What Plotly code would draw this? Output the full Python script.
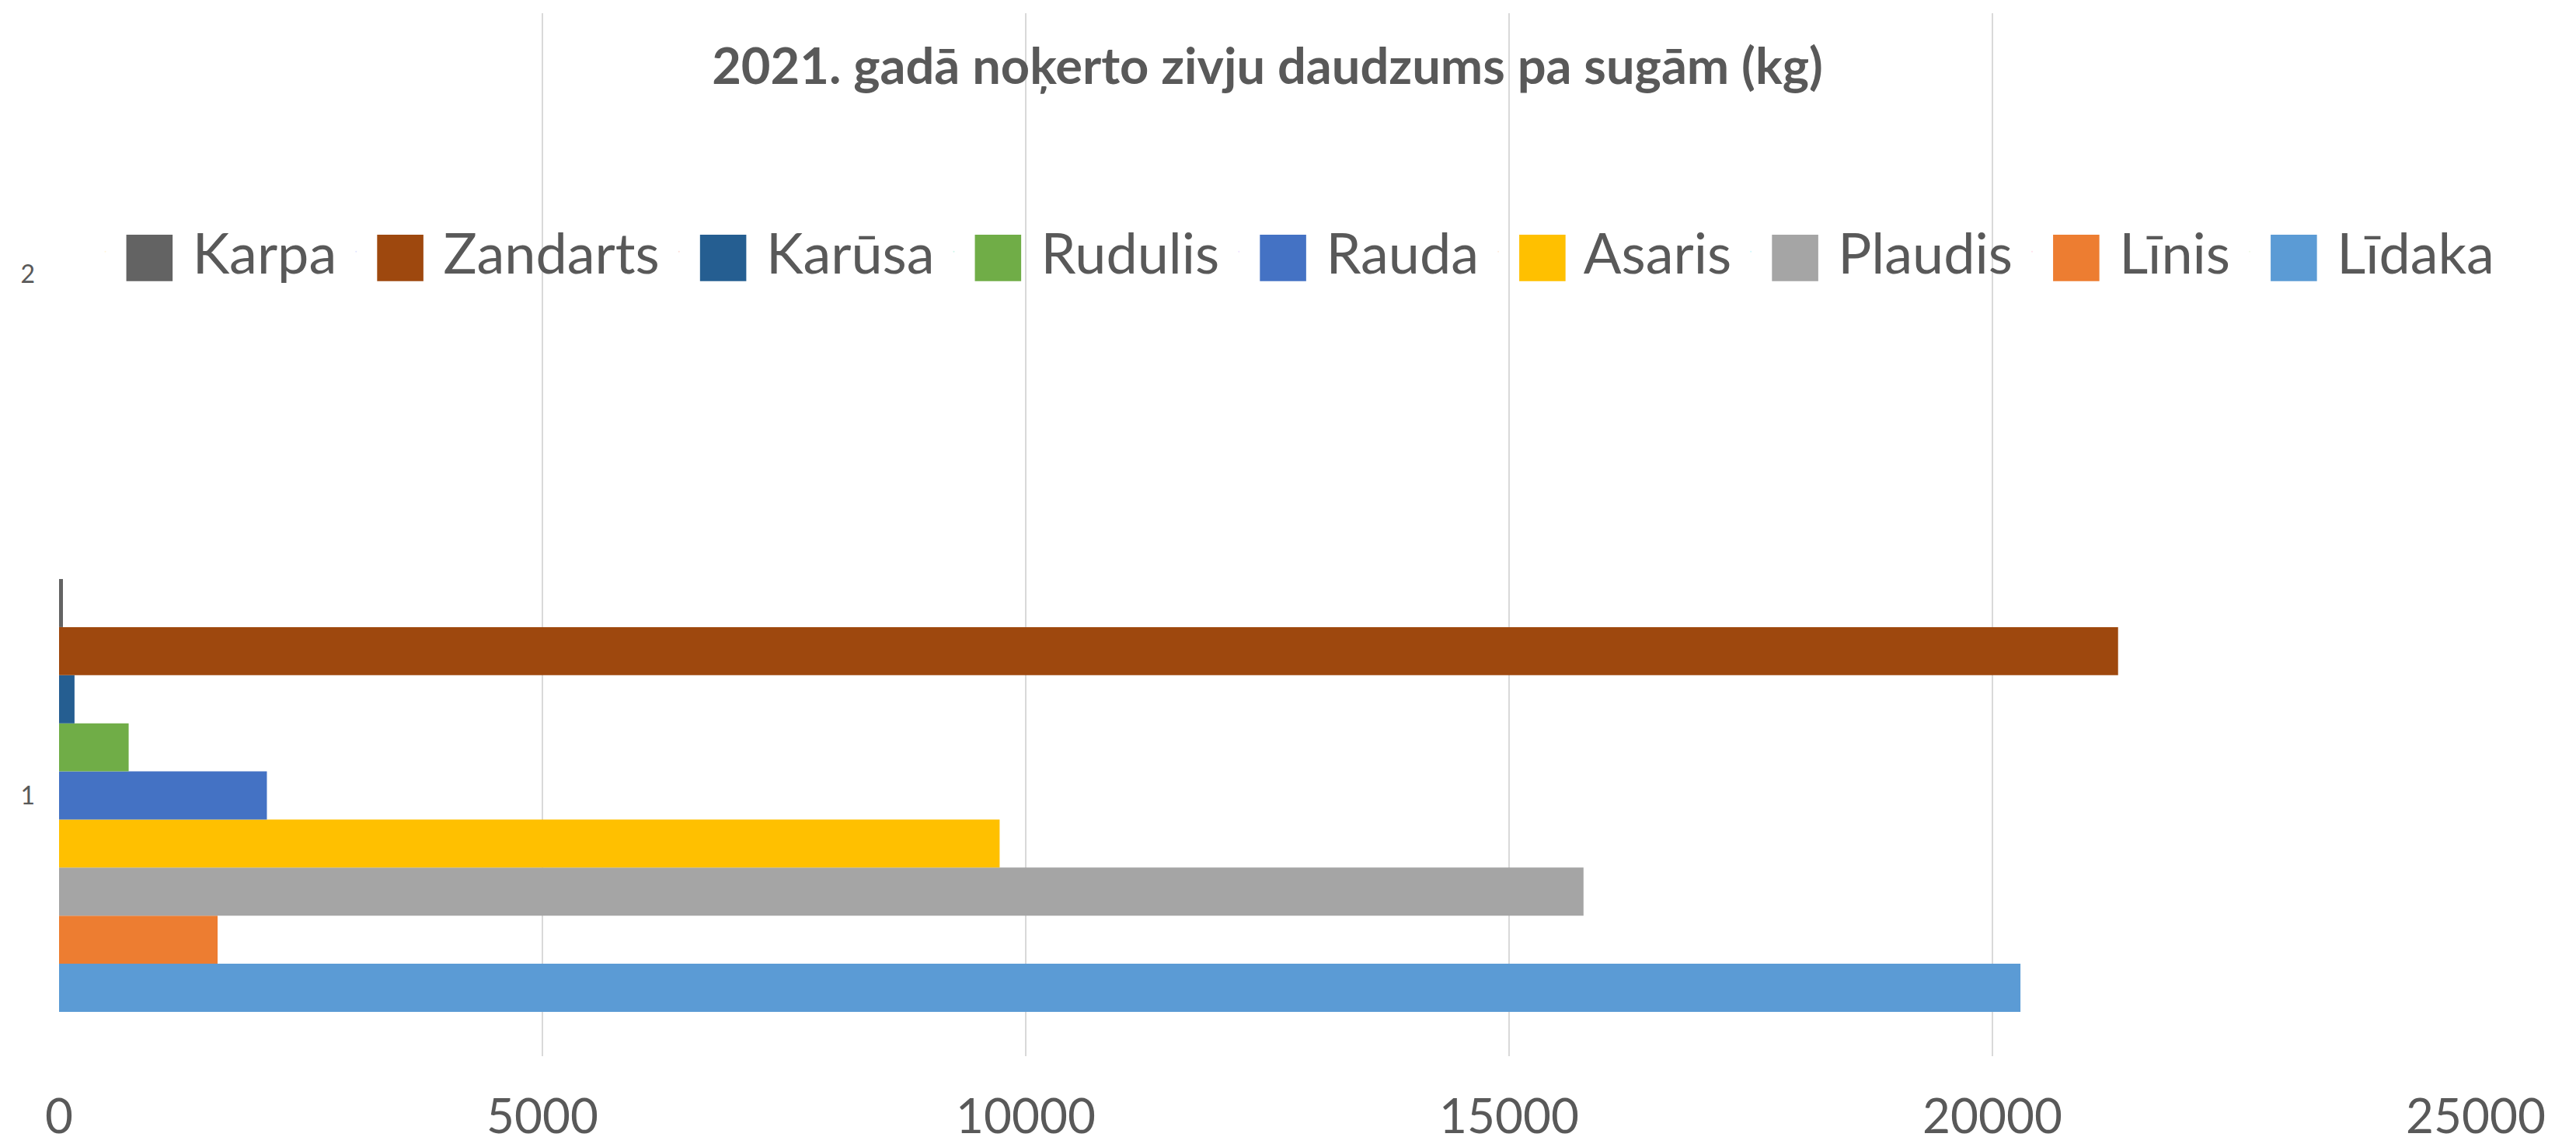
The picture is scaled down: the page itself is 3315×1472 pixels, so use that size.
import plotly.graph_objects as go

# ---- data ----
species = ["Līdaka", "Līnis", "Plaudis", "Asaris", "Rauda", "Rudulis", "Karūsa", "Zandarts", "Karpa"]
catch_kg = [20290, 1640, 15770, 9730, 2150, 720, 160, 21300, 40]
colors = ["#5B9BD5", "#ED7D31", "#A5A5A5", "#FFC000", "#4472C4", "#70AD47", "#255E91", "#9E480E", "#636363"]
category = [1]
y_tick_vals = [1, 2]
y_tick_text = ["1", "2"]
x_tick_vals = [0, 5000, 10000, 15000, 20000, 25000]
title_text = "2021. gadā noķerto zivju daudzums pa sugām (kg)"

TXT = "#595959"
fig = go.Figure()

for name, val, col in zip(species, catch_kg, colors):
    fig.add_trace(go.Bar(
        x=[val], y=category, orientation="h", name=name,
        marker=dict(color=col, line=dict(width=0)),
        showlegend=False,
    ))

# legend entries (Karpa first), large square swatch drawn as text glyph
for name, col in reversed(list(zip(species, colors))):
    fig.add_trace(go.Scatter(
        x=[None], y=[None], mode="markers", name=
        f"<span style='color:{col};font-family:DejaVu Sans;font-size:78px'>■</span> {name}",
        marker=dict(opacity=0, size=1), showlegend=True, hoverinfo="skip",
    ))

fig.update_layout(
    width=3315, height=1472,
    paper_bgcolor="white", plot_bgcolor="white",
    margin=dict(l=68, r=137, t=9, b=121, autoexpand=False),
    barmode="group", bargap=0.17, bargroupgap=0,
    title=dict(text=title_text, x=0.5, xref="paper", xanchor="center",
               y=1 - 77 / 1472, yref="container", yanchor="middle",
               font=dict(family="Lato", size=65, color=TXT, weight="bold")),
    legend=dict(orientation="h", xref="container", yref="container",
                x=0.5, xanchor="center", y=1 - 316 / 1472, yanchor="middle",
                font=dict(family="Lato", size=72, color=TXT),
                itemwidth=30, traceorder="normal", bgcolor="rgba(0,0,0,0)"),
    xaxis=dict(range=[0, 25000], tickvals=x_tick_vals, tickformat="d", showgrid=True,
               gridcolor="#D9D9D9", gridwidth=2, zeroline=False, showline=False,
               tickfont=dict(family="Lato", size=62, color=TXT),
               ticks="", ticklabelstandoff=36),
    yaxis=dict(range=[0.5, 2.5], tickvals=y_tick_vals, ticktext=y_tick_text,
               showgrid=False, zeroline=False, showline=False, ticks="",
               tickfont=dict(family="Lato", size=32, color=TXT),
               ticklabelstandoff=30),
)

fig.write_html("out.html")
